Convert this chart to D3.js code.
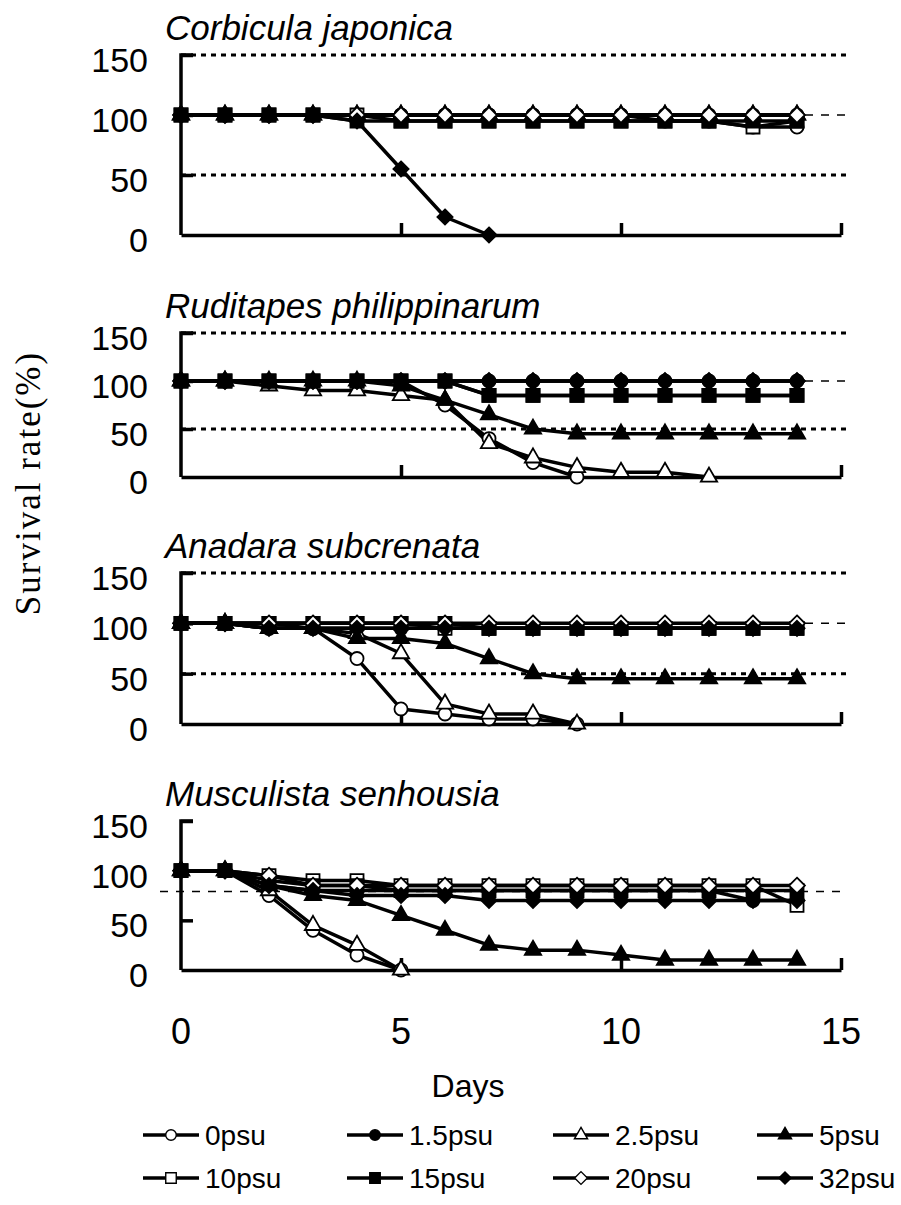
<!DOCTYPE html>
<html>
<head>
<meta charset="utf-8">
<script src="https://cdn.jsdelivr.net/npm/d3@7"></script>
<style>
  body { margin: 0; background: #fff; }
  text { font-family: "Liberation Sans", Arial, sans-serif; fill: #000; }
</style>
</head>
<body>
<div id="chart"></div>
<script>
// days of measurement
var days = [0, 1, 2, 3, 4, 5, 6, 7, 8, 9, 10, 11, 12, 13, 14];
var seriesNames = ["0psu", "1.5psu", "2.5psu", "5psu", "10psu", "15psu", "20psu", "32psu"];
var yTicks = [0, 50, 100, 150];
var xTicks = [0, 5, 10, 15];

// survival rate (%) per salinity, in seriesNames order
var corbicula = [
  [100, 100, 100, 100, 100, 100, 100, 100, 100, 100, 100, 95, 95, 90, 90],
  [100, 100, 100, 100, 100, 100, 100, 100, 100, 100, 100, 100, 100, 100, 100],
  [100, 100, 100, 100, 100, 100, 100, 100, 100, 100, 100, 100, 100, 100, 100],
  [100, 100, 100, 100, 100, 100, 100, 100, 100, 100, 100, 100, 100, 100, 100],
  [100, 100, 100, 100, 100, 95, 95, 95, 95, 95, 95, 95, 95, 90, 95],
  [100, 100, 100, 100, 95, 95, 95, 95, 95, 95, 95, 95, 95, 95, 95],
  [100, 100, 100, 100, 100, 100, 100, 100, 100, 100, 100, 100, 100, 100, 100],
  [100, 100, 100, 100, 95, 55, 15, 0]
];
var ruditapes = [
  [100, 100, 100, 100, 100, 100, 75, 40, 15, 0],
  [100, 100, 100, 100, 100, 100, 100, 100, 100, 100, 100, 100, 100, 100, 100],
  [100, 100, 95, 90, 90, 85, 80, 35, 20, 10, 5, 5, 0],
  [100, 100, 100, 100, 100, 95, 80, 65, 50, 45, 45, 45, 45, 45, 45],
  [100, 100, 100, 100, 100, 100, 100, 85, 85, 85, 85, 85, 85, 85, 85],
  [100, 100, 100, 100, 100, 100, 100, 85, 85, 85, 85, 85, 85, 85, 85],
  [100, 100, 100, 100, 100, 100, 100, 100, 100, 100, 100, 100, 100, 100, 100],
  [100, 100, 100, 100, 100, 100, 100, 100, 100, 100, 100, 100, 100, 100, 100]
];
var anadara = [
  [100, 100, 100, 95, 65, 15, 10, 5, 5, 0],
  [100, 100, 95, 95, 95, 95, 95, 95, 95, 95, 95, 95, 95, 95, 95],
  [100, 100, 95, 95, 90, 70, 20, 10, 10, 0],
  [100, 100, 95, 95, 85, 85, 80, 65, 50, 45, 45, 45, 45, 45, 45],
  [100, 100, 100, 100, 100, 100, 95, 95, 95, 95, 95, 95, 95, 95, 95],
  [100, 100, 100, 100, 100, 100, 100, 95, 95, 95, 95, 95, 95, 95, 95],
  [100, 100, 100, 100, 100, 100, 100, 100, 100, 100, 100, 100, 100, 100, 100],
  [100, 100, 95, 95, 95, 95, 95, 95, 95, 95, 95, 95, 95, 95, 95]
];
var musculista = [
  [100, 100, 75, 40, 15, 0],
  [100, 100, 85, 80, 80, 80, 80, 80, 80, 80, 80, 80, 80, 70, 70],
  [100, 100, 80, 45, 25, 0],
  [100, 100, 85, 75, 70, 55, 40, 25, 20, 20, 15, 10, 10, 10, 10],
  [100, 100, 95, 90, 90, 85, 85, 85, 85, 85, 85, 85, 85, 85, 65],
  [100, 100, 90, 85, 85, 80, 80, 80, 80, 80, 80, 80, 80, 80, 80],
  [100, 100, 95, 85, 85, 85, 85, 85, 85, 85, 85, 85, 85, 85, 85],
  [100, 100, 85, 80, 75, 75, 75, 70, 70, 70, 70, 70, 70, 70, 70]
];

var panels = [
  { title: "Corbicula japonica", data: corbicula, top: 55, bottom: 235, grid: [50, 150], refLine: 100 },
  { title: "Ruditapes philippinarum", data: ruditapes, top: 333, bottom: 477, grid: [50, 150], refLine: 100 },
  { title: "Anadara subcrenata", data: anadara, top: 573, bottom: 724, grid: [50, 150], refLine: 100 },
  { title: "Musculista senhousia", data: musculista, top: 821, bottom: 970, grid: [], refLine: 79 }
];

var width = 901, height = 1205;
var svg = d3.select("#chart").append("svg")
  .attr("width", width)
  .attr("height", height);

var x = d3.scaleLinear().domain([0, 15]).range([181, 841]);

// marker shapes (open / filled)
var diamondType = {
  draw: function (ctx, size) {
    var r = Math.sqrt(size / 2);
    ctx.moveTo(0, -r); ctx.lineTo(r, 0); ctx.lineTo(0, r); ctx.lineTo(-r, 0); ctx.closePath();
  }
};
var markerStyle = [
  { type: d3.symbolCircle, size: 135, fill: "#fff" },
  { type: d3.symbolCircle, size: 135, fill: "#000" },
  { type: d3.symbolTriangle, size: 115, fill: "#fff" },
  { type: d3.symbolTriangle, size: 115, fill: "#000" },
  { type: d3.symbolSquare, size: 170, fill: "#fff" },
  { type: d3.symbolSquare, size: 170, fill: "#000" },
  { type: diamondType, size: 125, fill: "#fff" },
  { type: diamondType, size: 115, fill: "#000" }
];

function drawMarker(g, i, cx, cy) {
  var m = markerStyle[i];
  g.append("path")
    .attr("d", d3.symbol().type(m.type).size(m.size)())
    .attr("transform", "translate(" + cx + "," + cy + ")")
    .style("fill", m.fill)
    .style("stroke", "#000")
    .style("stroke-width", 1.8);
}

panels.forEach(function (p) {
  var y = d3.scaleLinear().domain([0, 150]).range([p.bottom, p.top]);
  var g = svg.append("g");

  // title
  g.append("text")
    .attr("x", 165)
    .attr("y", p.top - 15)
    .style("font-size", "35px")
    .style("font-style", "italic")
    .text(p.title);

  // dotted gridlines
  p.grid.forEach(function (v) {
    g.append("line")
      .attr("x1", x(0)).attr("x2", 846)
      .attr("y1", y(v)).attr("y2", y(v))
      .style("stroke", "#000")
      .style("stroke-width", 3)
      .style("stroke-dasharray", "5,5");
  });
  // thin dashed reference line
  g.append("line")
    .attr("x1", p.grid.length ? x(0) : 160).attr("x2", 846)
    .attr("y1", y(p.refLine)).attr("y2", y(p.refLine))
    .style("stroke", "#000")
    .style("stroke-width", 1.5)
    .style("stroke-dasharray", "8,8");

  // y axis
  var yAxis = g.append("g")
    .attr("transform", "translate(" + x(0) + ",0)")
    .call(d3.axisRight(y).tickValues(yTicks).tickSize(12).tickFormat(""));
  yAxis.select(".domain").attr("d", "M12," + y(150) + "H0V" + y(0)).style("stroke-width", 3.5);
  yAxis.selectAll(".tick line").style("stroke-width", 3.5);
  yAxis.selectAll(".tick").filter(function (d) { return d === 0; }).remove();

  // y tick labels
  g.selectAll(".ylab")
    .data(yTicks)
    .enter()
    .append("text")
    .attr("x", 148)
    .attr("y", function (d) { return y(d) + 17; })
    .attr("text-anchor", "end")
    .style("font-size", "34px")
    .text(function (d) { return d; });

  // x axis
  var xAxis = g.append("g")
    .attr("transform", "translate(0," + y(0) + ")")
    .call(d3.axisTop(x).tickValues([5, 10, 15]).tickSize(12).tickSizeOuter(0).tickFormat(""));
  xAxis.select(".domain").style("stroke-width", 3.5);
  xAxis.selectAll(".tick line").style("stroke-width", 3.5);

  // series lines
  var line = d3.line()
    .x(function (d, i) { return x(days[i]); })
    .y(function (d) { return y(d); });
  p.data.forEach(function (vals) {
    g.append("path")
      .attr("d", line(vals))
      .style("fill", "none")
      .style("stroke", "#000")
      .style("stroke-width", 3.5)
      .style("stroke-linejoin", "round");
  });
  // markers on top
  p.data.forEach(function (vals, si) {
    vals.forEach(function (v, i) {
      drawMarker(g, si, x(days[i]), y(v));
    });
  });
});

// x tick labels
svg.selectAll(".xlab")
  .data(xTicks)
  .enter()
  .append("text")
  .attr("x", function (d) { return x(d); })
  .attr("y", 1044)
  .attr("text-anchor", "middle")
  .style("font-size", "36px")
  .text(function (d) { return d; });

svg.append("text")
  .attr("x", 468)
  .attr("y", 1097)
  .attr("text-anchor", "middle")
  .style("font-size", "32px")
  .text("Days");

// y axis title
svg.append("text")
  .attr("transform", "translate(40,483) rotate(-90)")
  .attr("text-anchor", "middle")
  .style("font-family", "'Liberation Serif', 'Times New Roman', serif")
  .style("font-size", "35px")
  .style("letter-spacing", "2px")
  .text("Survival rate(%)");

// legend
var legX = [143, 347, 553, 757];
var legY = [1135, 1178];
var legend = svg.append("g");
seriesNames.forEach(function (name, i) {
  var lx = legX[i % 4], ly = legY[Math.floor(i / 4)];
  legend.append("line")
    .attr("x1", lx).attr("x2", lx + 56)
    .attr("y1", ly).attr("y2", ly)
    .style("stroke", "#000")
    .style("stroke-width", 3.5);
  var m = markerStyle[i];
  legend.append("path")
    .attr("d", d3.symbol().type(m.type).size(m.size * 0.65)())
    .attr("transform", "translate(" + (lx + 28) + "," + ly + ")")
    .style("fill", m.fill)
    .style("stroke", "#000")
    .style("stroke-width", 1.4);
  legend.append("text")
    .attr("x", lx + 62)
    .attr("y", ly + 10)
    .style("font-size", "28px")
    .text(name);
});
</script>
</body>
</html>
